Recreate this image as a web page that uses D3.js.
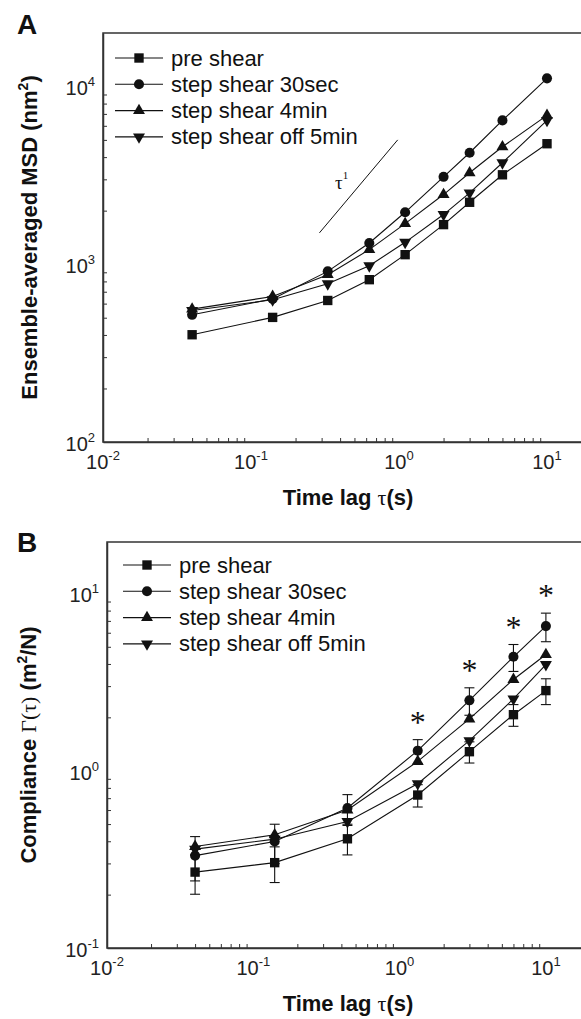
<!DOCTYPE html>
<html>
<head>
<meta charset="utf-8">
<script src="https://cdn.jsdelivr.net/npm/d3@7"></script>
<style>
  body { margin: 0; background: #fff; }
  svg { display: block; font-family: "Liberation Sans", Arial, sans-serif; }
</style>
</head>
<body>
<div id="chart"></div>
<script>

// ---- data: legend names shared by both panels
const seriesNames = ["pre shear", "step shear 30sec", "step shear 4min", "step shear off 5min"];

// panel A - ensemble-averaged MSD (nm^2)
const msdTime  = [0.04, 0.14, 0.33, 0.63, 1.1, 2, 3, 5, 10];
const msdPre   = [401, 502, 625, 818, 1131, 1669, 2229, 3181, 4757];
const msd30sec = [519, 637, 911, 1316, 1958, 3099, 4232, 6434, 11093];
const msd4min  = [559, 658, 873, 1207, 1691, 2463, 3265, 4571, 6864];
const msdOff5  = [549, 631, 776, 980, 1327, 1901, 2518, 3718, 6434];
const slopeGuideX = [0.29, 0.98];
const slopeGuideY = [1500, 5000];

// panel B - compliance (m^2/N)
const compTime     = [0.04, 0.14, 0.44, 1.33, 3, 6, 10];
const compPre      = [0.268, 0.303, 0.413, 0.729, 1.28, 2.07, 2.83];
const compPreErr   = [0.067, 0.069, 0.078, 0.105, 0.175, 0.29, 0.47];
const comp30sec    = [0.332, 0.399, 0.616, 1.297, 2.495, 4.39, 6.54];
const comp30secErr = [0.093, 0.10, 0.117, 0.20, 0.44, 0.76, 1.2];
const comp4min     = [0.374, 0.435, 0.60, 1.128, 1.959, 3.27, 4.52];
const compOff5     = [0.361, 0.411, 0.517, 0.845, 1.477, 2.54, 3.97];
const starTimes    = [1.33, 3, 6, 10];

// tick labels (powers of ten)
const timeTickExp = ["-2", "-1", "0", "1"];
const msdTickExp  = ["2", "3", "4"];
const compTickExp = ["-1", "0", "1"];

const shapes = ["square", "circle", "triangle", "triangleDown"];
const ink = "#111";
const axisInk = "#333";

const svg = d3.select("#chart").append("svg")
    .attr("width", 581)
    .attr("height", 1019);

function symbolPath(shape) {
    if (shape === "square") return d3.symbol(d3.symbolSquare, 88)();
    if (shape === "circle") return d3.symbol(d3.symbolCircle, 80)();
    return d3.symbol(d3.symbolTriangle, 62)();
}

function addMarker(g, shape, cx, cy) {
    g.append("path")
        .attr("d", symbolPath(shape))
        .attr("fill", ink)
        .attr("transform", `translate(${cx},${cy})` + (shape === "triangleDown" ? " rotate(180)" : ""));
}

function minorTicks(domain) {
    let out = [];
    let lo = Math.floor(Math.log10(domain[0])), hi = Math.ceil(Math.log10(domain[1]));
    for (let e = lo; e < hi; e++) {
        for (let m = 2; m <= 9; m++) {
            let v = m * Math.pow(10, e);
            if (v > domain[0] && v < domain[1]) out.push(v);
        }
    }
    return out;
}

function supLabel(sel, base, exp) {
    sel.append("tspan").text(base);
    sel.append("tspan").attr("font-size", 13).attr("dy", -9).text(exp);
}

function drawPanel(p) {
    let g = svg.append("g");

    let x = d3.scaleLog().domain(p.xDomain).range([p.left, p.right]);
    let y = d3.scaleLog().domain(p.yDomain).range([p.bottom, p.top]);

    // frame (right side falls outside the image)
    g.append("rect")
        .attr("x", p.left).attr("y", p.top)
        .attr("width", p.right - p.left).attr("height", p.bottom - p.top)
        .attr("fill", "none").attr("stroke", axisInk).attr("stroke-width", 1.5);

    // x ticks, pointing inward
    let xMajor = timeTickExp.map(e => Math.pow(10, +e));
    let xAx = g.append("g").attr("transform", `translate(0,${p.bottom})`)
        .call(d3.axisBottom(x).tickValues(xMajor).tickSize(-7).tickSizeOuter(0).tickFormat(""));
    xAx.call(d3.axisBottom(x).tickValues(minorTicks(p.xDomain)).tickSize(-4).tickSizeOuter(0).tickFormat(""));
    xAx.selectAll("path.domain").attr("stroke", axisInk).attr("stroke-width", 1.5);
    xAx.selectAll("line").attr("stroke", axisInk);

    let yMajor = p.yExp.map(e => Math.pow(10, +e));
    let yAx = g.append("g").attr("transform", `translate(${p.left},0)`)
        .call(d3.axisLeft(y).tickValues(yMajor).tickSize(-7).tickSizeOuter(0).tickFormat(""));
    yAx.call(d3.axisLeft(y).tickValues(minorTicks(p.yDomain)).tickSize(-4).tickSizeOuter(0).tickFormat(""));
    yAx.selectAll("path.domain").attr("stroke", axisInk).attr("stroke-width", 1.5);
    yAx.selectAll("line").attr("stroke", axisInk);

    // tick labels
    timeTickExp.forEach(e => {
        let t = g.append("text")
            .attr("x", x(Math.pow(10, +e)))
            .attr("y", p.bottom + 27)
            .attr("text-anchor", "middle")
            .attr("font-size", 20)
            .attr("fill", "#222");
        supLabel(t, "10", e);
    });
    p.yExp.forEach(e => {
        let t = g.append("text")
            .attr("x", p.left - 8)
            .attr("y", y(Math.pow(10, +e)) + 9)
            .attr("text-anchor", "end")
            .attr("font-size", 20)
            .attr("fill", "#222");
        supLabel(t, "10", e);
    });

    // x title
    let xt = g.append("text")
        .attr("x", 348).attr("y", p.bottom + 63)
        .attr("text-anchor", "middle")
        .attr("font-size", 22).attr("font-weight", "bold").attr("fill", ink);
    xt.append("tspan").text("Time lag ");
    xt.append("tspan").attr("font-family", "Liberation Serif, serif").attr("font-weight", "normal").text("τ");
    xt.append("tspan").text("(s)");

    // y title
    let yt = g.append("text")
        .attr("transform", `translate(${p.yTitleX},${(p.top + p.bottom) / 2}) rotate(-90)`)
        .attr("text-anchor", "middle")
        .attr("font-size", 22).attr("font-weight", "bold").attr("fill", ink);
    p.yTitle(yt);

    // panel letter
    g.append("text")
        .attr("x", 17).attr("y", p.letterY)
        .attr("font-size", 28).attr("font-weight", "bold").attr("fill", ink)
        .text(p.letter);

    let line = d3.line().x(d => x(d[0])).y(d => y(d[1]));

    p.series.forEach((s, i) => {
        let pts = p.time.map((t, k) => [t, s[k]]);
        g.append("path")
            .attr("d", line(pts))
            .attr("fill", "none").attr("stroke", ink).attr("stroke-width", 1.1);
    });

    // error bars
    (p.errors || []).forEach(e => {
        let vals = p.series[e.index];
        p.time.forEach((t, k) => {
            let cx = x(t), y0 = y(vals[k] - e.err[k]), y1 = y(vals[k] + e.err[k]);
            g.append("line").attr("x1", cx).attr("x2", cx).attr("y1", y0).attr("y2", y1)
                .attr("stroke", ink).attr("stroke-width", 1.1);
            [y0, y1].forEach(yy => g.append("line")
                .attr("x1", cx - 5).attr("x2", cx + 5).attr("y1", yy).attr("y2", yy)
                .attr("stroke", ink).attr("stroke-width", 1.1));
        });
    });

    p.series.forEach((s, i) => {
        p.time.forEach((t, k) => addMarker(g, shapes[i], x(t), y(s[k])));
    });

    // legend
    seriesNames.forEach((name, i) => {
        let ly = p.legendY + i * 26.3;
        g.append("line")
            .attr("x1", p.legendX).attr("x2", p.legendX + 48)
            .attr("y1", ly).attr("y2", ly)
            .attr("stroke", ink).attr("stroke-width", 1.1);
        addMarker(g, shapes[i], p.legendX + 24, ly);
        g.append("text")
            .attr("x", p.legendX + 56).attr("y", ly + 7.5)
            .attr("font-size", 22).attr("fill", ink)
            .text(name);
    });

    return {g, x, y};
}

// ---- panel A
let A = drawPanel({
    letter: "A", letterY: 34,
    left: 103, right: 103 + 148 * Math.log10(2000), top: 33, bottom: 442,
    xDomain: [0.01, 20], yDomain: [100, Math.pow(10, 4.3)],
    yExp: msdTickExp, yTitleX: 37,
    time: msdTime, series: [msdPre, msd30sec, msd4min, msdOff5],
    legendX: 115, legendY: 58,
    yTitle: t => {
        t.append("tspan").text("Ensemble-averaged MSD (nm");
        t.append("tspan").attr("font-size", 14).attr("dy", -9).text("2");
        t.append("tspan").attr("dy", 9).text(")");
    }
});

// slope guide, tau^1
A.g.append("line")
    .attr("x1", A.x(slopeGuideX[0])).attr("y1", A.y(slopeGuideY[0]))
    .attr("x2", A.x(slopeGuideX[1])).attr("y2", A.y(slopeGuideY[1]))
    .attr("stroke", ink).attr("stroke-width", 1);
let tau = A.g.append("text")
    .attr("x", A.x(0.41)).attr("y", A.y(2650))
    .attr("text-anchor", "middle")
    .attr("font-family", "Liberation Serif, serif").attr("font-size", 19).attr("fill", ink);
tau.append("tspan").text("τ");
tau.append("tspan").attr("font-size", 11).attr("dy", -10).text("1");

// ---- panel B
let B = drawPanel({
    letter: "B", letterY: 552,
    left: 107, right: 107 + 146.3 * Math.log10(2000), top: 542, bottom: 948,
    xDomain: [0.01, 20], yDomain: [0.1, Math.pow(10, 1.29)],
    yExp: compTickExp, yTitleX: 36,
    time: compTime, series: [compPre, comp30sec, comp4min, compOff5],
    errors: [{index: 0, err: compPreErr}, {index: 1, err: comp30secErr}],
    legendX: 123, legendY: 565,
    yTitle: t => {
        t.append("tspan").text("Compliance ");
        t.append("tspan").attr("font-family", "Liberation Serif, serif").attr("font-weight", "normal").text("Γ(τ)");
        t.append("tspan").text(" (m");
        t.append("tspan").attr("font-size", 14).attr("dy", -9).text("2");
        t.append("tspan").attr("dy", 9).text("/N)");
    }
});

// significance stars above the 30sec error bars
starTimes.forEach(t => {
    let k = compTime.indexOf(t);
    let top = B.y(comp30sec[k] + comp30secErr[k]);
    B.g.append("text")
        .attr("x", B.x(t)).attr("y", top - 21 + 14)
        .attr("text-anchor", "middle")
        .attr("font-family", "Liberation Serif, serif").attr("font-size", 32).attr("fill", ink)
        .text("*");
});

</script>
</body>
</html>
